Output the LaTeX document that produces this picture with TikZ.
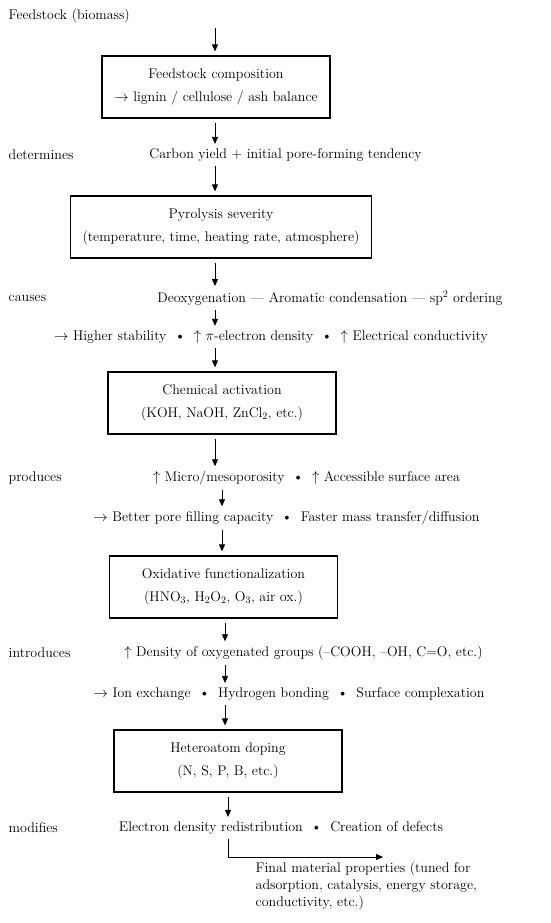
\documentclass[tikz,border=0pt]{standalone}
\usetikzlibrary{arrows.meta}
\newcommand{\midbul}{\hspace{0.6em}\textbullet\hspace{0.6em}}
\begin{document}
\begin{tikzpicture}[
    x=1pt, y=-1pt,
    every node/.style={font=\fontsize{14}{17}\selectfont, inner sep=0.5pt},
    stage/.style={rectangle, draw=black, line width=1.2pt,
                  minimum width=228pt, minimum height=62pt,
                  inner xsep=12pt, align=center, font=\fontsize{14}{23}\selectfont},
    verb/.style={anchor=west},
    flow/.style={-{Triangle[length=7pt,width=6pt]}, line width=0.8pt,
                 shorten <=4pt, shorten >=4pt}
  ]
    \useasboundingbox (0,0) rectangle (550,923);

    % spine of the flow
    \coordinate (spA) at (215,0);
    \coordinate (spB) at (222,0);
    \coordinate (spC) at (225,0);
    \coordinate (spD) at (228,0);
    \coordinate (tip) at (383,857);

    % start
    \node[verb] (feed) at (8,16) {Feedstock (biomass)};

    % process stages
    \node[stage] (compo) at (216,87) {Feedstock composition\\$\to$ lignin / cellulose / ash balance};
    \node[stage, minimum width=300pt] (pyro) at (221,227) {Pyrolysis severity\\(temperature, time, heating rate, atmosphere)};
    \node[stage] (activ) at (222,403) {Chemical activation\\(KOH, NaOH, ZnCl$_2$, etc.)};
    \node[stage] (oxid) at (223.5,587) {Oxidative functionalization\\(HNO$_3$, H$_2$O$_2$, O$_3$, air ox.)};
    \node[stage] (dope) at (228,761) {Heteroatom doping\\(N, S, P, B, etc.)};

    % verbs on the left
    \node[verb] (v-det) at (8,155) {determines};
    \node[verb] (v-cau) at (8,298) {causes};
    \node[verb] (v-pro) at (8,478) {produces};
    \node[verb] (v-int) at (8,653) {introduces};
    \node[verb] (v-mod) at (8,828) {modifies};

    % effects
    \node (yield) at (285.5,155) {Carbon yield + initial pore-forming tendency};
    \node (deoxy) at (330,298) {Deoxygenation --- Aromatic condensation --- sp$^2$ ordering};
    \node (gain) at (271,337) {$\to$ Higher stability\midbul$\uparrow$ $\pi$-electron density\midbul$\uparrow$ Electrical conductivity};
    \node (pore) at (306.5,478) {$\uparrow$ Micro/mesoporosity\midbul$\uparrow$ Accessible surface area};
    \node (fill) at (286.5,518) {$\to$ Better pore filling capacity\midbul Faster mass transfer/diffusion};
    \node (oxy) at (303.5,653) {$\uparrow$ Density of oxygenated groups (--COOH, --OH, C=O, etc.)};
    \node (ion) at (289,694) {$\to$ Ion exchange\midbul Hydrogen bonding\midbul Surface complexation};
    \node (elec) at (281,828) {Electron density redistribution\midbul Creation of defects};
    \node[anchor=north west, align=left] (final) at (255,861) {Final material properties (tuned for\\adsorption, catalysis, energy storage,\\conductivity, etc.)};

    % arrows
    \draw[flow] (feed.south -| spA) -- (compo.north -| spA);
    \draw[flow] (compo.south -| spA) -- (yield.north -| spA);
    \draw[flow] (yield.south -| spA) -- (pyro.north -| spA);
    \draw[flow] (pyro.south -| spA) -- (deoxy.north -| spA);
    \draw[flow] (deoxy.south -| spA) -- (gain.north -| spA);
    \draw[flow] (gain.south -| spA) -- (activ.north -| spA);
    \draw[flow] (activ.south -| spA) -- (pore.north -| spA);
    \draw[flow] (pore.south -| spB) -- (fill.north -| spB);
    \draw[flow] (fill.south -| spB) -- (oxid.north -| spB);
    \draw[flow] (oxid.south -| spC) -- (oxy.north -| spC);
    \draw[flow] (oxy.south -| spC) -- (ion.north -| spC);
    \draw[flow] (ion.south -| spC) -- (dope.north -| spC);
    \draw[flow] (dope.south -| spD) -- (elec.north -| spD);
    \draw[flow, shorten >=0pt] (elec.south -| spD) |- (tip);

\end{tikzpicture}
\end{document}
